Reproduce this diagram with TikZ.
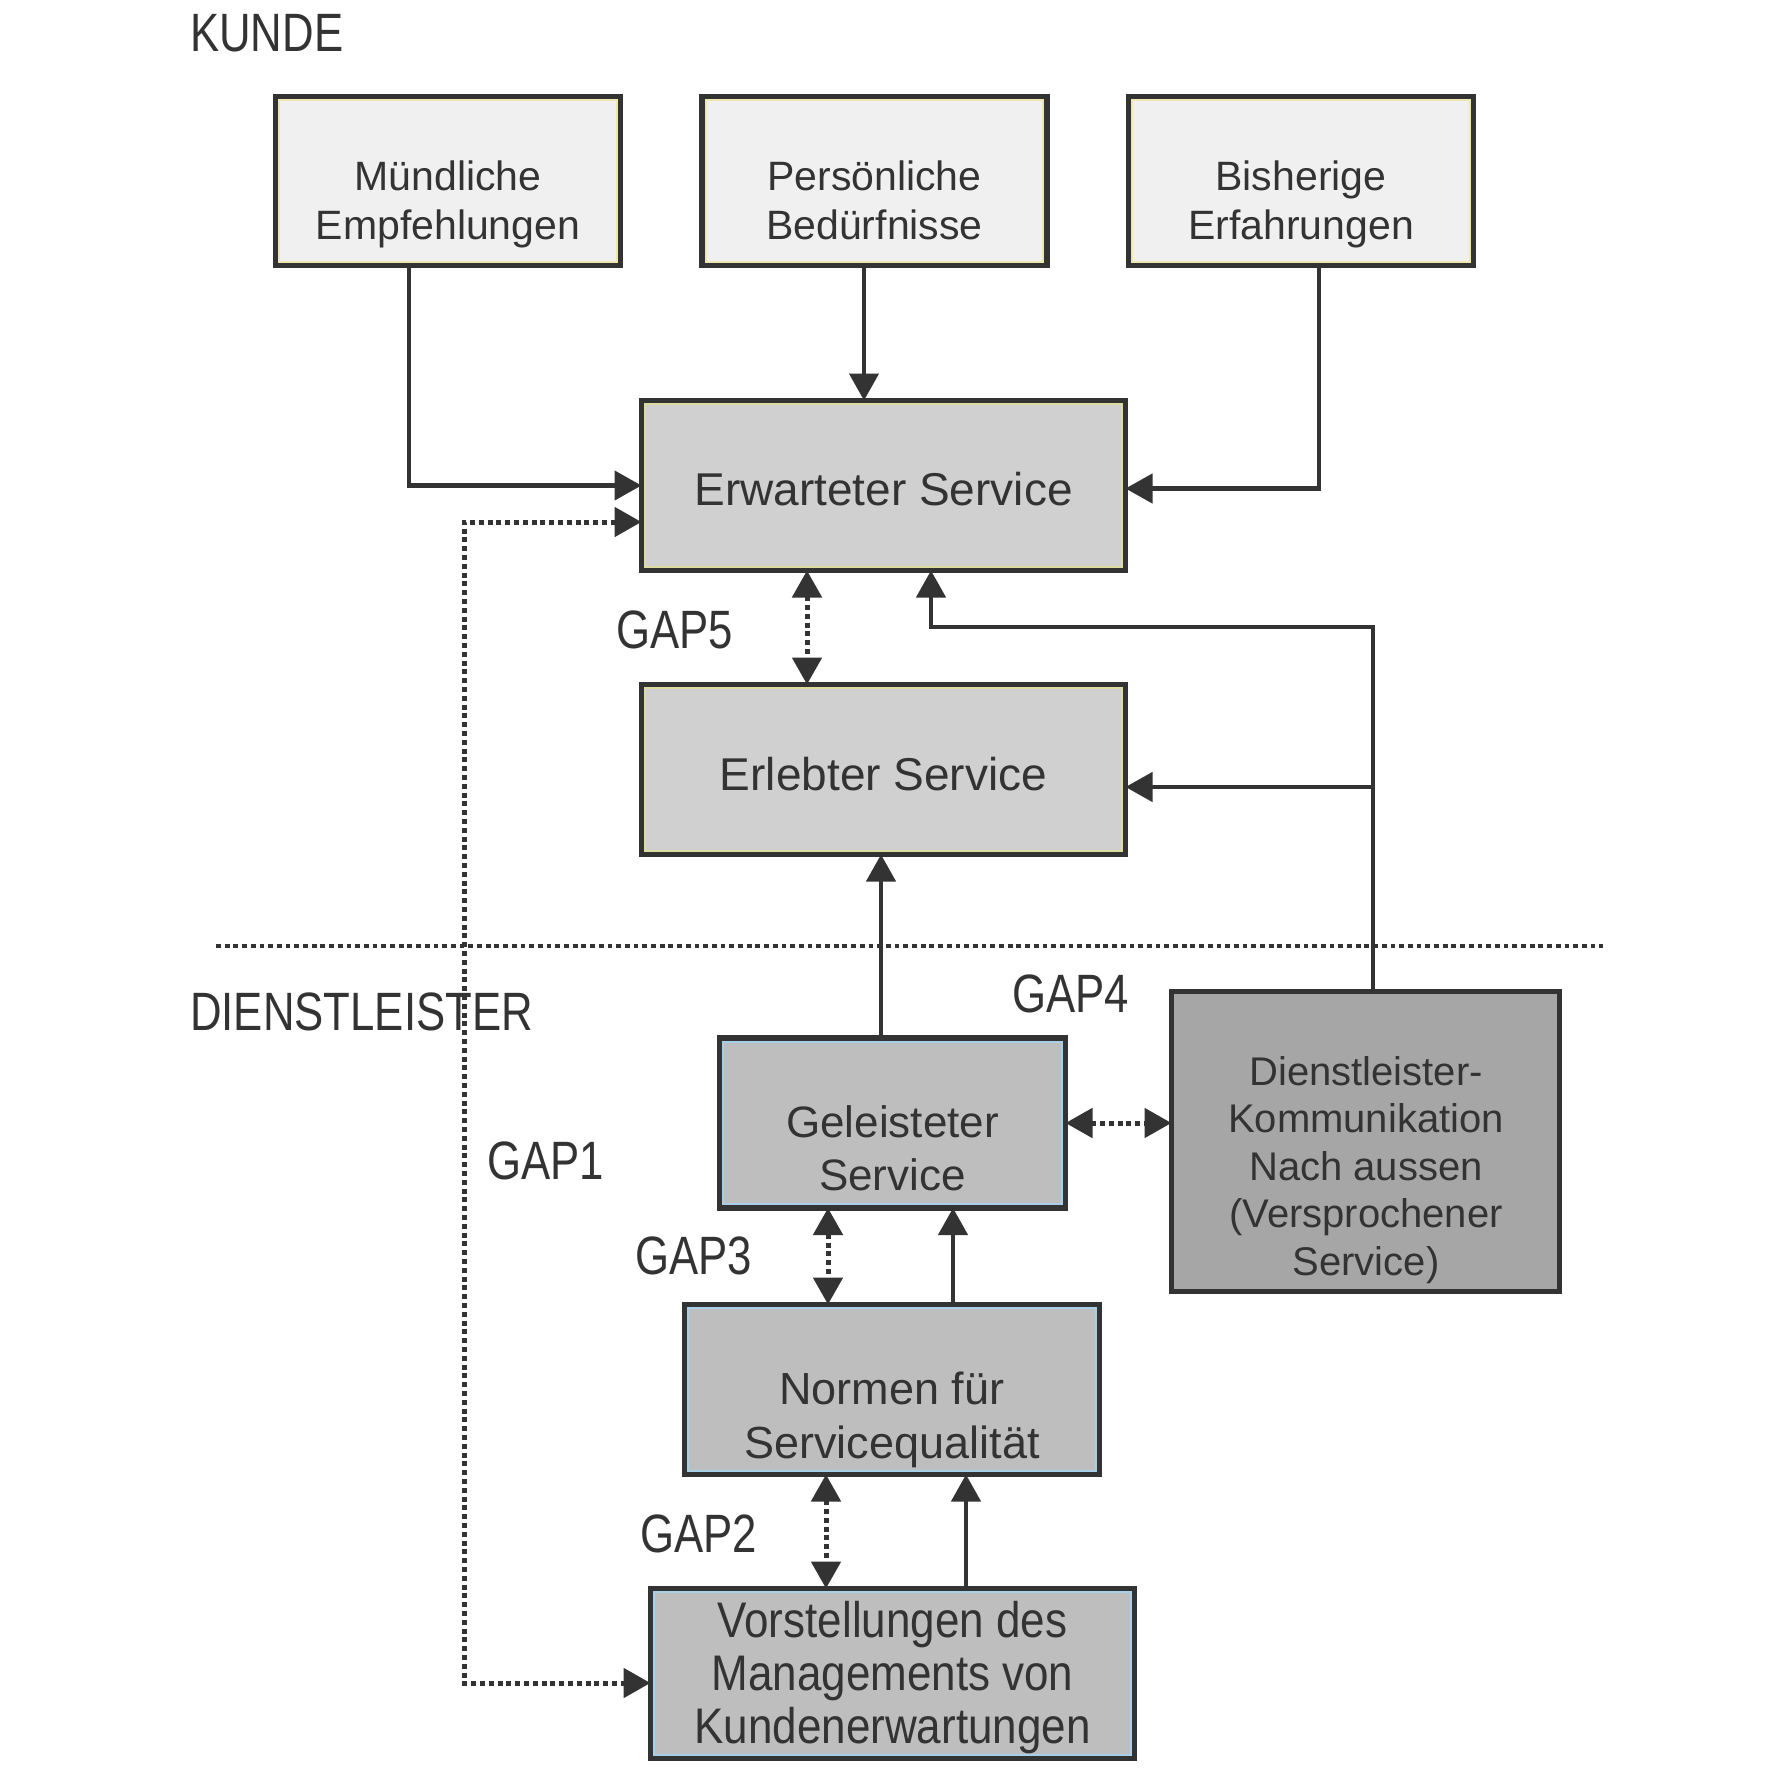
\documentclass[tikz,border=0pt]{standalone}
\usepackage{fontspec}
\setmainfont{Liberation Sans}
\newfontfamily\condfont[FakeStretch=0.81]{Liberation Sans}
\newfontfamily\vorfont[FakeStretch=0.88]{Liberation Sans}
\usetikzlibrary{arrows.meta}
\definecolor{ink}{HTML}{333333}
\definecolor{fillA}{HTML}{F0F0F0}
\definecolor{fillB}{HTML}{D0D0D0}
\definecolor{fillC}{HTML}{BEBEBE}
\definecolor{fillD}{HTML}{A6A6A6}
\definecolor{rimY}{HTML}{EDE8B0}
\definecolor{rimG}{HTML}{DCDCA0}
\definecolor{rimB}{HTML}{A8CFE8}
\tikzset{
  box/.style={draw=ink, line width=5.5pt, rectangle, inner sep=0pt, outer sep=0pt},
  topbox/.style={box, fill=fillA, minimum width=345pt, minimum height=169pt},
  midbox/.style={box, fill=fillB, minimum width=484pt, minimum height=170pt},
  lowbox/.style={box, fill=fillC, minimum height=170pt},
  kommbox/.style={box, fill=fillD},
  boxtext/.style={text=ink, align=center, anchor=base, inner sep=0pt},
  lbl/.style={text=ink, anchor=base west, inner sep=0pt, font=\condfont\fontsize{54}{54}\selectfont},
  tip/.tip={Triangle[length=27pt,width=29pt]},
  conn/.style={draw=ink, line width=4.5pt, -tip},
  dconn/.style={draw=ink, line width=5pt, dash pattern=on 5pt off 3.8pt, tip-tip},
  sepline/.style={draw=ink, line width=4.8pt, dash pattern=on 4.8pt off 3.9pt},
}
\begin{document}
\begin{tikzpicture}[x=1pt,y=-1pt]
\useasboundingbox[fill=white] (0,0) rectangle (1783,1779);

% separator
\coordinate (s1) at (216,946);
\coordinate (s2) at (1603,946);
\draw[sepline] (s1) -- (s2);

% boxes
\node[topbox] (mund) at (448,181) {};
\node[topbox] (pers) at (874.5,181) {};
\node[topbox] (bish) at (1301,181) {};
\node[midbox] (erw) at (883.5,485.5) {};
\node[midbox] (erl) at (883.5,769.5) {};
\node[lowbox, minimum width=346pt] (gel) at (892.5,1123) {};
\node[kommbox, minimum width=388pt, minimum height=300pt] (komm) at (1365.5,1141.5) {};
\node[lowbox, minimum width=415pt] (norm) at (892,1389.5) {};
\node[lowbox, minimum width=484pt] (vorst) at (892.5,1673.5) {};

\foreach \nm/\rc in {mund/rimY,pers/rimY,bish/rimY,erw/rimG,erl/rimG,gel/rimB,norm/rimB,vorst/rimB}
  \draw[\rc, line width=2pt] ([shift={(3.8,3.8)}]\nm.north west) rectangle ([shift={(-3.8,-3.8)}]\nm.south east);

% texts (anchor=base = baseline of the last line)
\node[boxtext, font=\fontsize{41}{49}\selectfont] (mundt) at (448,240) {Mündliche\\Empfehlungen};
\node[boxtext, font=\fontsize{41}{49}\selectfont] (perst) at (874.5,240) {Persönliche\\Bedürfnisse};
\node[boxtext, font=\fontsize{41}{49}\selectfont] (bisht) at (1301,240) {Bisherige\\Erfahrungen};
\node[boxtext, font=\fontsize{46}{55}\selectfont] (erwt) at (883.5,505) {Erwarteter Service};
\node[boxtext, font=\fontsize{46}{55}\selectfont] (erlt) at (883.5,790) {Erlebter Service};
\node[boxtext, font=\fontsize{44}{53}\selectfont] (gelt) at (892.5,1190) {Geleisteter\\Service};
\node[boxtext, font=\fontsize{40}{47.5}\selectfont] (kommt) at (1366,1275) {Dienstleister-\\Kommunikation\\Nach aussen\\(Versprochener\\Service)};
\node[boxtext, font=\fontsize{45}{54}\selectfont] (normt) at (892,1458) {Normen für\\Servicequalität};
\node[boxtext, font=\vorfont\fontsize{50}{53}\selectfont] (vorstt) at (892.5,1743) {Vorstellungen des\\Managements von\\Kundenerwartungen};

% labels
\node[lbl] (kunde) at (190,52) {KUNDE};
\node[lbl] (dienst) at (190,1030) {DIENSTLEISTER};
\node[lbl] (gap5) at (616,648) {GAP5};
\node[lbl] (gap4) at (1012,1012) {GAP4};
\node[lbl] (gap1) at (487,1179) {GAP1};
\node[lbl] (gap3) at (635,1274) {GAP3};
\node[lbl] (gap2) at (640,1552) {GAP2};

% connectors
\coordinate (k1) at (1373,627);
\coordinate (k2) at (1373,787);
\coordinate (dl) at (464,1100);

\draw[conn] ([xshift=-39pt]mund.south) |- (erw.west);
\draw[conn] ([xshift=-10.5pt]pers.south) -- ([xshift=-10.5pt]pers.south |- erw.north);
\draw[conn] ([xshift=18pt]bish.south) |- ([yshift=-3pt]erw.east);
\draw[dconn] ([yshift=-36.5pt]erw.west) -| (dl) |- ([yshift=-9.5pt]vorst.west);
\draw[dconn] ([xshift=-76.5pt]erw.south) -- ([xshift=-76.5pt]erl.north);
\draw[conn] ([xshift=7.5pt]komm.north) -- (k1) -| ([xshift=47.5pt]erw.south);
\draw[conn] (k2) -- (k2 -| erl.east);
\draw[conn] ([xshift=-11.5pt]gel.north) -- ([xshift=-11.5pt]gel.north |- erl.south);
\draw[dconn] (gel.east) -- (gel.east -| komm.west);
\draw[dconn] ([xshift=-64.5pt]gel.south) -- ([xshift=-64.5pt]gel.south |- norm.north);
\draw[conn] ([xshift=61pt]norm.north) -- ([xshift=61pt]norm.north |- gel.south);
\draw[dconn] ([xshift=-66pt]norm.south) -- ([xshift=-66pt]norm.south |- vorst.north);
\draw[conn] ([xshift=73.5pt]vorst.north) -- ([xshift=73.5pt]vorst.north |- norm.south);
\end{tikzpicture}
\end{document}
